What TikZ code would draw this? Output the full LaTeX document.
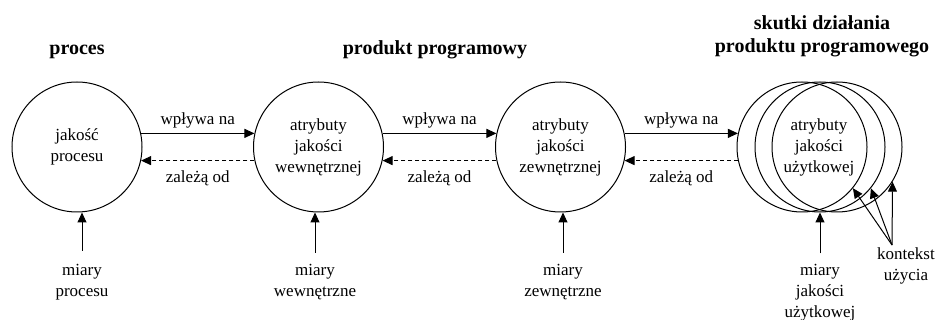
\documentclass[tikz,border=0pt]{standalone}
\usepackage{fontspec}
\setmainfont{Liberation Serif}
\usetikzlibrary{arrows.meta,positioning}

\begin{document}
\begin{tikzpicture}[x=1pt, y=-1pt,
  every node/.style={font=\fontsize{17}{21}\selectfont, align=center, inner sep=0pt},
  quality/.style={circle, draw, line width=1pt, minimum size=130pt},
  header/.style={font=\fontsize{20}{23.4}\selectfont\bfseries},
  link/.style={line width=1pt, -{Triangle[length=10pt, width=9pt]}},
  back/.style={link, dash pattern=on 4pt off 3pt},
]
  \useasboundingbox (0,0) rectangle (937,320);

  % headers
  \node[header, anchor=base] (hp) at (77,55) {proces};
  \node[header, anchor=base] (hs) at (435,55) {produkt programowy};
  \node[header] (hk) at (822,36.5) {skutki działania\\produktu programowego};

  % quality circles
  \node[quality] (pq) at (77,147) {jakość\\procesu};
  \node[quality] (wq) at (318.5,147) {atrybuty\\jakości\\wewnętrznej};
  \node[quality] (zq) at (560.5,147) {atrybuty\\jakości\\zewnętrznej};
  \node[quality] (ua) at (802,147) {};
  \node[quality] (ub) at (820,147) {};
  \node[quality] (uc) at (837,147) {};
  \node (ut) at (819,147) {atrybuty\\jakości\\użytkowej};

  % influence / dependency
  \draw[link] (pq.12) -- node[above=4.5pt] {wpływa na} (wq.168);
  \draw[back] (wq.192) -- node[below=10pt] {zależą od} (pq.348);
  \draw[link] (wq.12) -- node[above=4.5pt] {wpływa na} (zq.168);
  \draw[back] (zq.192) -- node[below=10pt] {zależą od} (wq.348);
  \draw[link] (zq.12) -- node[above=4.5pt] {wpływa na} (ua.168);
  \draw[back] (ua.192) -- node[below=10pt] {zależą od} (zq.348);

  % measures
  \node (mp) at (82,282) {miary\\procesu};
  \node (mw) at (315,282) {miary\\wewnętrzne};
  \node (mz) at (563,282) {miary\\zewnętrzne};
  \node (mu) at (820,293) {miary\\jakości\\użytkowej};
  \draw[link] ([yshift=13pt]mp.north) -- (mp.north |- pq.south);
  \draw[link] ([yshift=11pt]mw.north) -- (mw.north |- wq.south);
  \draw[link] ([yshift=11pt]mz.north) -- (mz.north |- zq.south);
  \draw[link] ([yshift=11pt]mu.north) -- (mu.north |- ub.south);

  % context of use
  \node (ku) at (906,266) {kontekst\\użycia};
  \coordinate (kc) at (892,245);
  \draw[link] (kc) -- (ua.-39);
  \draw[link] (kc) -- (ub.-39);
  \draw[link] (kc) -- (uc.-32);
\end{tikzpicture}
\end{document}
